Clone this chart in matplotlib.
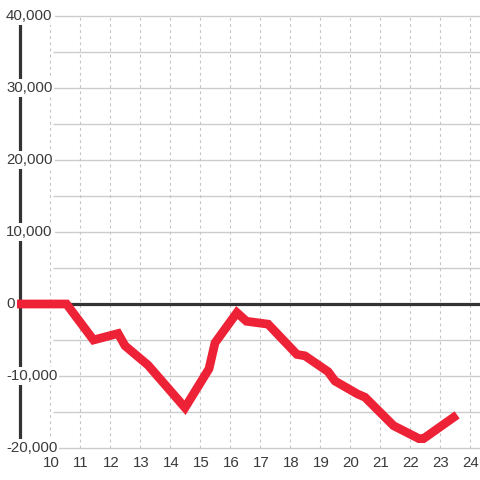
import matplotlib.pyplot as plt

hours = [8.9, 10.55, 11.45, 12.27, 12.5, 13.27, 14.5, 15.3, 15.5, 16.23, 16.55,
         17.27, 18.23, 18.5, 19.27, 19.5, 20.25, 20.5, 21.45, 22.3, 22.45, 23.57]
values = [0, 0, -5000, -4100, -5800, -8500, -14400, -9000, -5400, -1200, -2400,
          -2800, -7000, -7200, -9400, -10700, -12500, -12950, -16900, -18700, -18700, -15400]

y_ticks = [40000, 30000, 20000, 10000, 0, -10000, -20000]
y_grid = list(range(-20000, 40001, 5000))
x_ticks = list(range(10, 25))

plt.rcParams['font.family'] = ['Liberation Sans', 'DejaVu Sans']

fig = plt.figure(figsize=(4.8, 4.8), dpi=100)
ax = fig.add_axes([0, 0, 1, 1])
ax.set_xlim(9 - 20 / 30, 9 - 20 / 30 + 16)
ax.set_ylim(-20000 - 32 / 7.2 * 1000, 40000 + 16 / 7.2 * 1000)
ax.axis('off')

# grid
x_grid_start = 9 + 33 / 30
ax.hlines(y_grid, x_grid_start, 24.4, color='#cccccc', lw=1, zorder=1)
ax.vlines(x_ticks, -20000, 40000, color='#c4c4c4', lw=0.8,
          linestyles=(0, (2.5, 3)), zorder=1)

# zero line and left axis
ax.hlines(0, 9, 24.4, color='#333333', lw=2.3, zorder=2)
ax.vlines(9, -20000, 40000, color='#333333', lw=2.3, zorder=2)

ax.plot(hours, values, color='#ee2236', lw=6.3, solid_joinstyle='miter',
        solid_capstyle='butt', zorder=3)

for v in y_ticks:
    ax.text(9 - 14 / 30, v, f'{v:,}', ha='left', va='center', fontsize=10.8,
            color='#3a3a3a', zorder=4,
            bbox=dict(facecolor='white', edgecolor='none', pad=1.5))

for t in x_ticks:
    ax.text(t + 0.03, -20000 - 15 / 7.2 * 1000, str(t), ha='center', va='center',
            fontsize=10.8, color='#3a3a3a', zorder=4)

fig.savefig('out.png', dpi=100, facecolor='white')
